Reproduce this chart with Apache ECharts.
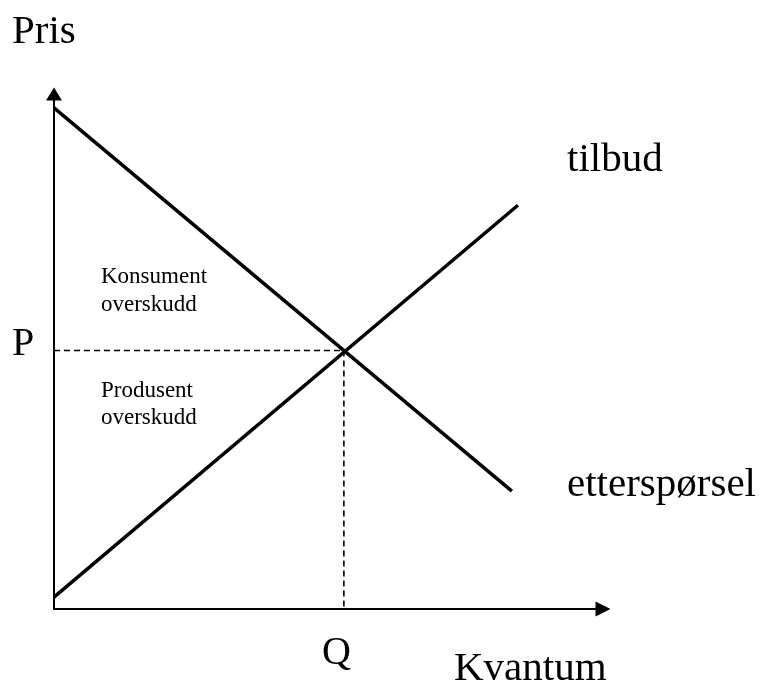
<!DOCTYPE html>
<html>
<head>
<meta charset="utf-8">
<script src="https://cdn.jsdelivr.net/npm/echarts@6/dist/echarts.min.js"></script>
<style>
  html, body { margin: 0; padding: 0; background: #fff; }
  #myChart { width: 764px; height: 686px; }
</style>
</head>
<body>
<div id="myChart"></div>
<script>
// kurvene (kvantum, pris) i aksens enheter 0..10
var demandQ = [0, 8.34];
var demandP = [9.73, 2.29];
var supplyQ = [0, 8.45];
var supplyP = [0.23, 7.84];
// likevekt
var eqQ = 5.28;
var eqP = 5.02;

function pairs(xs, ys) {
    var out = [];
    for (var i = 0; i < xs.length; i++) out.push([xs[i], ys[i]]);
    return out;
}

var serif = 'Liberation Serif';
var myChart = echarts.init(document.getElementById('myChart'));

var option = {
    animation: false,
    backgroundColor: '#fff',
    grid: { left: 54, right: 161, top: 94, bottom: 77 },
    xAxis: {
        type: 'value', min: 0, max: 10,
        axisLine: { show: true, symbol: ['none', 'triangle'], symbolSize: [15, 15],
            lineStyle: { color: '#000', width: 2 } },
        axisTick: { show: false }, axisLabel: { show: false }, splitLine: { show: false }
    },
    yAxis: {
        type: 'value', min: 0, max: 10,
        axisLine: { show: true, symbol: ['none', 'triangle'], symbolSize: [16, 13],
            lineStyle: { color: '#000', width: 2 } },
        axisTick: { show: false }, axisLabel: { show: false }, splitLine: { show: false }
    },
    series: [
        {   // etterspørsel
            type: 'line', data: pairs(demandQ, demandP), showSymbol: false,
            lineStyle: { color: '#000', width: 3.5 }
        },
        {   // tilbud
            type: 'line', data: pairs(supplyQ, supplyP), showSymbol: false,
            lineStyle: { color: '#000', width: 3.5 }
        },
        {   // stiplet linje P
            type: 'line', data: [[0, eqP], [eqQ, eqP]], showSymbol: false,
            lineStyle: { color: '#000', width: 1.6, type: [6, 4] }
        },
        {   // stiplet linje Q
            type: 'line', data: [[eqQ, eqP], [eqQ, 0]], showSymbol: false,
            lineStyle: { color: '#000', width: 1.6, type: [6, 4] }
        }
    ],
    graphic: [
        { type: 'text', x: 12, y: 32, style: { text: 'Pris', font: '41px ' + serif, fill: '#000', verticalAlign: 'middle' } },
        { type: 'text', x: 567, y: 160, style: { text: 'tilbud', font: '41px ' + serif, fill: '#000', verticalAlign: 'middle' } },
        { type: 'text', x: 567, y: 485, style: { text: 'etterspørsel', font: '41px ' + serif, fill: '#000', verticalAlign: 'middle' } },
        { type: 'text', x: 12, y: 344, style: { text: 'P', font: '40px ' + serif, fill: '#000', verticalAlign: 'middle' } },
        { type: 'text', x: 322, y: 653, style: { text: 'Q', font: '40px ' + serif, fill: '#000', verticalAlign: 'middle' } },
        { type: 'text', x: 454, y: 669, style: { text: 'Kvantum', font: '41px ' + serif, fill: '#000', verticalAlign: 'middle' } },
        { type: 'text', x: 101, y: 277, style: { text: 'Konsument', font: '23px ' + serif, fill: '#000', verticalAlign: 'middle' } },
        { type: 'text', x: 101, y: 305, style: { text: 'overskudd', font: '23px ' + serif, fill: '#000', verticalAlign: 'middle' } },
        { type: 'text', x: 101, y: 391, style: { text: 'Produsent', font: '23px ' + serif, fill: '#000', verticalAlign: 'middle' } },
        { type: 'text', x: 101, y: 418, style: { text: 'overskudd', font: '23px ' + serif, fill: '#000', verticalAlign: 'middle' } }
    ]
};
myChart.setOption(option);
</script>
</body>
</html>
